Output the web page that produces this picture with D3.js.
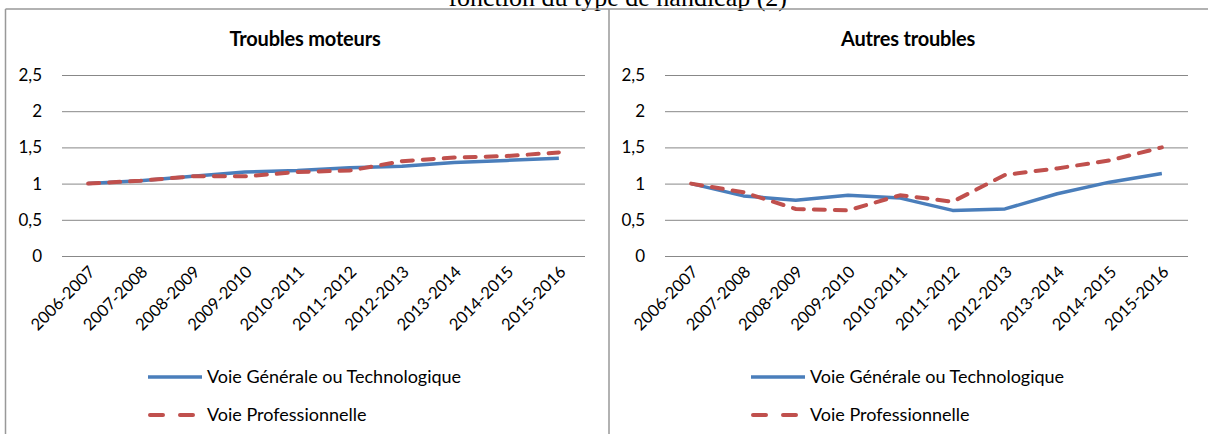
<!DOCTYPE html>
<html><head><meta charset="utf-8">
<script src="https://cdn.jsdelivr.net/npm/d3@7"></script>
<style>
body{margin:0;background:#fff;}
text{font-family:Lato,"Open Sans",sans-serif;fill:#000;}
</style></head>
<body><svg id="c" width="1208" height="434"></svg>
<script>
const categories = ["2006-2007","2007-2008","2008-2009","2009-2010","2010-2011","2011-2012","2012-2013","2013-2014","2014-2015","2015-2016"];
const moteursGT  = [1.00,1.04,1.10,1.16,1.18,1.22,1.24,1.29,1.32,1.35];
const moteursPro = [1.00,1.04,1.10,1.10,1.16,1.18,1.31,1.36,1.38,1.43];
const autresGT   = [1.00,0.83,0.77,0.84,0.80,0.63,0.65,0.86,1.02,1.14];
const autresPro  = [1.00,0.88,0.65,0.63,0.84,0.75,1.12,1.21,1.32,1.50];
const yTicks = [0,0.5,1,1.5,2,2.5];
const seriesNames = ["Voie Générale ou Technologique","Voie Professionnelle"];
const panelTitles = ["Troubles moteurs","Autres troubles"];
const pageTitle = "fonction du type de handicap (2)";

const svg = d3.select("#c");
const blue = "#4A7EBB", red = "#C0504D", grid = "#888888", border = "#999999";

// page caption (cut at top, as in the reference)
svg.append("text").attr("x",787).attr("y",6).attr("text-anchor","end")
  .style("font-family","'Liberation Serif',serif").style("font-size","26px").text(pageTitle);

// panel frames
svg.append("line").attr("x1",5.5).attr("x2",1208).attr("y1",9).attr("y2",9).attr("stroke",border).attr("stroke-width",1.5);
svg.append("line").attr("x1",5.5).attr("x2",5.5).attr("y1",9).attr("y2",434).attr("stroke",border).attr("stroke-width",1.5);
svg.append("line").attr("x1",609).attr("x2",609).attr("y1",9).attr("y2",434).attr("stroke",border).attr("stroke-width",1.5);

const fmt = v => String(v).replace(".", ",");

function panel(ox, title, gt, pro){
  const g = svg.append("g").attr("transform",`translate(${ox},0)`);
  const x = d3.scaleBand().domain(categories).range([62,585]);
  const y = d3.scaleLinear().domain([0,2.5]).range([256,75]);
  g.append("text").attr("x",305).attr("y",46).attr("text-anchor","middle")
    .style("font-weight","bold").style("font-size","20px").style("letter-spacing","-0.2px").text(title);
  const ya = d3.axisLeft(y).tickValues(yTicks).tickSize(-(585-62)).tickFormat(fmt).tickPadding(20);
  const yg = g.append("g").attr("transform","translate(62,0)").call(ya);
  yg.select(".domain").remove();
  yg.selectAll(".tick line").attr("stroke",grid).attr("stroke-width",1);
  yg.selectAll(".tick text").style("font-size","17px").attr("font-family","Lato");
  const xa = d3.axisBottom(x).tickSize(0).tickPadding(0);
  const xg = g.append("g").attr("transform","translate(0,256)").call(xa);
  xg.select(".domain").remove();
  xg.selectAll(".tick text").style("font-size","16.5px").attr("font-family","Lato").attr("text-anchor","end")
    .attr("dy",0).attr("transform","translate(8,17) rotate(-45)");
  const line = d3.line().x((d,i)=>x(categories[i])+x.bandwidth()/2).y(d=>y(d));
  g.append("path").datum(gt).attr("d",line).attr("fill","none").attr("stroke",blue).attr("stroke-width",3.5).attr("stroke-linejoin","round");
  g.append("path").datum(pro).attr("d",line).attr("fill","none").attr("stroke",red).attr("stroke-width",4)
    .attr("stroke-dasharray","11,10").attr("stroke-linecap","round");
  const lg = g.append("g");
  lg.append("line").attr("x1",148).attr("x2",202).attr("y1",377).attr("y2",377).attr("stroke",blue).attr("stroke-width",3.5);
  lg.append("line").attr("x1",150).attr("x2",200).attr("y1",415).attr("y2",415).attr("stroke",red).attr("stroke-width",4)
    .attr("stroke-dasharray","13,17").attr("stroke-linecap","round");
  lg.append("text").attr("x",207).attr("y",383).style("font-size","18px").text(seriesNames[0]);
  lg.append("text").attr("x",207).attr("y",421).style("font-size","18px").text(seriesNames[1]);
}
panel(0, panelTitles[0], moteursGT, moteursPro);
panel(603, panelTitles[1], autresGT, autresPro);
</script></body></html>
